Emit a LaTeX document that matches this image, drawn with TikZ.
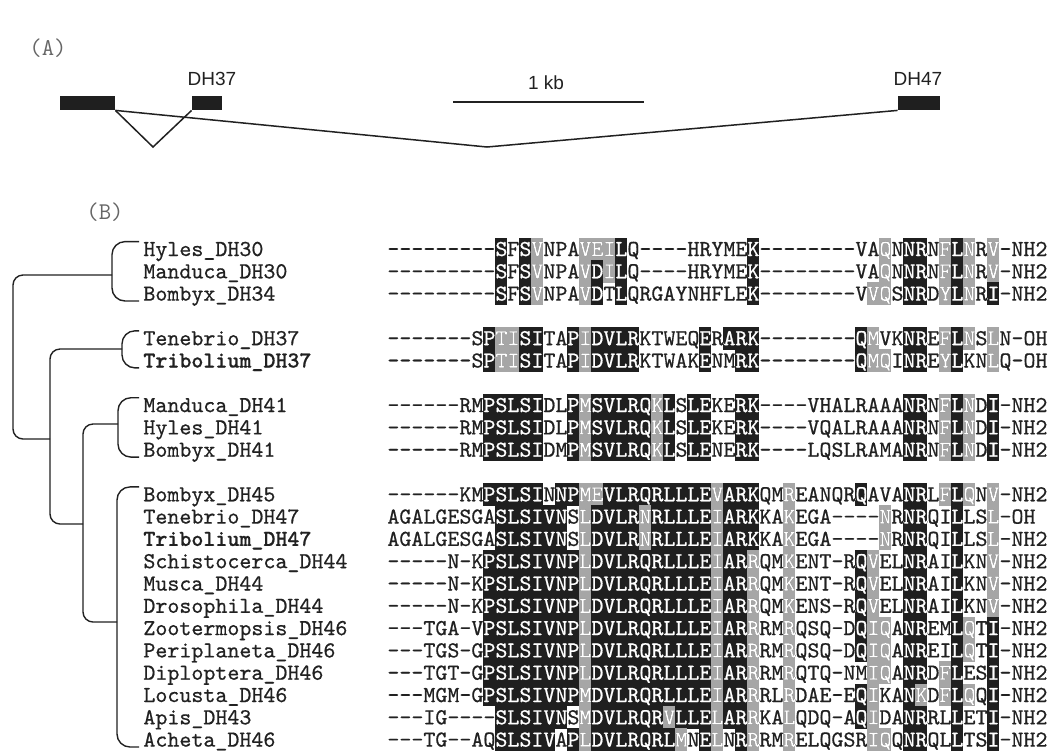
\documentclass[tikz,border=0pt]{standalone}
\usepackage{fontspec}
\setmainfont{Liberation Sans}
\setsansfont{Liberation Sans}
\newfontfamily\seqfont{lmmono10-regular.otf}[BoldFont=lmmonolt10-bold.otf, FakeBold=0.6]
\definecolor{boxdark}{gray}{0.12}
\definecolor{boxlight}{gray}{0.65}
\definecolor{ink}{gray}{0.13}

% one aligned sequence: y, node name, residues, dark columns, light columns
\newcommand{\alnrow}[5]{%
  \foreach \col in {#4} {\fill[boxdark] ({387+12*(\col-1)-0.2},{#1-11.4}) rectangle ++(12.4,22.8);}
  \foreach \col in {#5} {\fill[boxlight] ({387+12*(\col-1)-0.2},{#1-11.4}) rectangle ++(12.4,22.8);}
  \node[seq] (#2) at (387,#1) {#3};
  \begin{scope}
    \clip \foreach \col in {#4,#5} {({387+12*(\col-1)},{#1-11.4}) rectangle ++(12,22.8)};
    \node[seq, text=white] (#2w) at (387,#1) {#3};
  \end{scope}
}

\begin{document}
\begin{tikzpicture}[x=0.5pt, y=-0.5pt,
  every node/.style={text=ink},
  seq/.style={anchor=west, inner sep=0pt, text height=7pt, text depth=0pt, font=\seqfont\fontsize{11.43}{11.43}\selectfont},
  taxon/.style={seq, inner xsep=2pt},
  tree/.style={draw=ink, line width=0.7pt, rounded corners=5pt},
  exon/.style={fill=boxdark, inner sep=0pt, minimum height=7pt},
  intron/.style={draw=ink, line width=0.75pt},
  panel/.style={font=\ttfamily\fontsize{12}{12}\selectfont, text=black!60},
  gene/.style={font=\sffamily\fontsize{9.5}{9.5}\selectfont}]
\fill[white] (0,0) rectangle (1052,751);
\useasboundingbox (0,0) rectangle (1052,751);

% (A) gene structure
\node[panel] (pa) at (48,48) {(A)};
\node[exon, minimum width=27.5pt] (x1) at (87.5,103) {};
\node[exon, minimum width=15pt] (x2) at (207,103) {};
\node[exon, minimum width=21pt] (x3) at (919,103) {};
\node[gene] (t37) at (212,79) {DH37};
\node[gene] (t47) at (918,79) {DH47};
\coordinate (k1) at (153,147);
\coordinate (k2) at (487,147);
\draw[intron] (x1.south east) -- (k1) -- (x2.south west);
\draw[intron] (x1.south east) -- (k2) -- (x3.south west);
\coordinate (b1) at (453,102);
\coordinate (b2) at (644,102);
\draw[ink, line width=1pt] (b1) -- (b2);
\node[gene] (kb) at (546,83) {1 kb};

% (B) alignment
\node[panel] (pb) at (105,212) {(B)};

\node[taxon] (l1) at (139,249) {Hyles\_DH30};
\node[taxon] (l2) at (139,271.3) {Manduca\_DH30};
\node[taxon] (l3) at (139,293.6) {Bombyx\_DH34};
\node[taxon] (l4) at (139,338.2) {Tenebrio\_DH37};
\node[taxon, font=\seqfont\bfseries\fontsize{11.43}{11.43}\selectfont] (l5) at (139,360.5) {Tribolium\_DH37};
\node[taxon] (l6) at (139,405.1) {Manduca\_DH41};
\node[taxon] (l7) at (139,427.4) {Hyles\_DH41};
\node[taxon] (l8) at (139,449.7) {Bombyx\_DH41};
\node[taxon] (l9) at (139,494.3) {Bombyx\_DH45};
\node[taxon] (l10) at (139,516.6) {Tenebrio\_DH47};
\node[taxon, font=\seqfont\bfseries\fontsize{11.43}{11.43}\selectfont] (l11) at (139,538.9) {Tribolium\_DH47};
\node[taxon] (l12) at (139,561.2) {Schistocerca\_DH44};
\node[taxon] (l13) at (139,583.5) {Musca\_DH44};
\node[taxon] (l14) at (139,605.8) {Drosophila\_DH44};
\node[taxon] (l15) at (139,628.1) {Zootermopsis\_DH46};
\node[taxon] (l16) at (139,650.4) {Periplaneta\_DH46};
\node[taxon] (l17) at (139,672.7) {Diploptera\_DH46};
\node[taxon] (l18) at (139,695) {Locusta\_DH46};
\node[taxon] (l19) at (139,717.3) {Apis\_DH43};
\node[taxon] (l20) at (139,739.6) {Acheta\_DH46};

% tree
\coordinate (g1) at (112,275);
\coordinate (g2) at (122,349);
\coordinate (g3) at (118,424);
\coordinate (g4) at (117,622);
\coordinate (r0) at (13,357);
\coordinate (n2) at (50,439);
\coordinate (n3) at (83,524);
\draw[tree, rounded corners=6.5pt] (l1.north west) -| (g1 |- l3.south west) -- (l3.south west);
\draw[tree, rounded corners=6.5pt] (l4.north west) -| (g2 |- l5.south west) -- (l5.south west);
\draw[tree, rounded corners=6.5pt] (l6.north west) -| (g3 |- l8.south west) -- (l8.south west);
\draw[tree, rounded corners=6.5pt] (l9.north west) -| (g4 |- l20.south west) -- (l20.south west);
\draw[tree] (g1) -| (r0) |- (n2);
\draw[tree] (g2) -| (n2) |- (n3);
\draw[tree] (g3) -| (n3) |- (g4);

\alnrow{249}{s1}{---------SFSVNPAVEILQ----HRYMEK--------VAQNNRNFLNRV-NH2}{10,12,20,31,44,45,48}{13,17,18,19,42,47,49,51}
\alnrow{271.3}{s2}{---------SFSVNPAVDILQ----HRYMEK--------VAQNNRNFLNRV-NH2}{10,12,18,20,31,44,45,48}{13,17,19,42,47,49,51}
\alnrow{293.6}{s3}{---------SFSVNPAVDTLQRGAYNHFLEK--------VVQSNRDYLNRI-NH2}{10,12,18,20,31,44,45,48,51}{13,17,41,42,47,49}
\alnrow{338.2}{s4}{-------SPTISITAPIDVLRKTWEQERARK--------QMVKNREFLNSLN-OH}{9,12,13,16,18,19,20,21,27,29,30,31,40,44,45,48}{10,11,17,41,47,49,51}
\alnrow{360.5}{s5}{-------SPTISITAPIDVLRKTWAKENMRK--------QMQINREYLKNLQ-OH}{9,12,13,16,18,19,20,21,27,30,31,40,44,45,48}{10,11,17,41,42,47,51}
\alnrow{405.1}{s6}{------RMPSLSIDLPMSVLRQKLSLEKERK----VHALRAAANRNFLNDI-NH2}{9,10,11,12,13,16,18,19,20,21,22,24,26,27,30,31,44,45,48,51}{17,23,47,49}
\alnrow{427.4}{s7}{------RMPSLSIDLPMSVLRQKLSLEKERK----VQALRAAANRNFLNDI-NH2}{9,10,11,12,13,16,18,19,20,21,22,24,26,27,30,31,44,45,48,51}{17,23,47,49}
\alnrow{449.7}{s8}{------RMPSLSIDMPMSVLRQKLSLENERK----LQSLRAMANRNFLNDI-NH2}{9,10,11,12,13,16,18,19,20,21,22,24,26,27,30,31,44,45,48,51}{17,23,47,49}
\alnrow{494.3}{s9}{------KMPSLSINNPMEVLRQRLLLEVARKQMREANQRQAVANRLFLQNV-NH2}{9,10,11,12,13,15,16,19,20,21,22,23,24,25,26,27,29,30,31,40,44,45,48}{17,18,28,34,47,49,51}
\alnrow{516.6}{s10}{AGALGESGASLSIVNSLDVLRNRLLLEIARKKAKEGA----NRNRQILLSL-OH}{10,11,12,13,14,15,18,19,20,21,23,24,25,26,27,29,30,31,44,45,48}{17,22,28,34,42,51}
\alnrow{538.9}{s11}{AGALGESGASLSIVNSLDVLRNRLLLEIARKKAKEGA----NRNRQILLSL-NH2}{10,11,12,13,14,15,18,19,20,21,23,24,25,26,27,29,30,31,44,45,48}{17,22,28,34,42,51}
\alnrow{561.2}{s12}{-----N-KPSLSIVNPLDVLRQRLLLEIARRQMKENT-RQVELNRAILKNV-NH2}{9,10,11,12,13,14,15,16,18,19,20,21,22,23,24,25,26,27,29,30,40,44,45,48}{17,28,31,34,41,51}
\alnrow{583.5}{s13}{-----N-KPSLSIVNPLDVLRQRLLLEIARRQMKENT-RQVELNRAILKNV-NH2}{9,10,11,12,13,14,15,16,18,19,20,21,22,23,24,25,26,27,29,30,40,44,45,48}{17,28,31,34,41,51}
\alnrow{605.8}{s14}{-----N-KPSLSIVNPLDVLRQRLLLEIARRQMKENS-RQVELNRAILKNV-NH2}{9,10,11,12,13,14,15,16,18,19,20,21,22,23,24,25,26,27,29,30,40,44,45,48}{17,28,31,34,41,51}
\alnrow{628.1}{s15}{---TGA-VPSLSIVNPLDVLRQRLLLEIARRRMRQSQ-DQIQANREMLQTI-NH2}{9,10,11,12,13,14,15,16,18,19,20,21,22,23,24,25,26,27,29,30,40,44,45,48,51}{17,28,31,34,41,42,49}
\alnrow{650.4}{s16}{---TGS-GPSLSIVNPLDVLRQRLLLEIARRRMRQSQ-DQIQANREILQTI-NH2}{9,10,11,12,13,14,15,16,18,19,20,21,22,23,24,25,26,27,29,30,40,44,45,48,51}{17,28,31,34,41,42,49}
\alnrow{672.7}{s17}{---TGT-GPSLSIVNPLDVLRQRLLLEIARRRMRQTQ-NMIQANRDFLESI-NH2}{9,10,11,12,13,14,15,16,18,19,20,21,22,23,24,25,26,27,29,30,44,45,48,51}{17,28,31,34,41,42,47}
\alnrow{695}{s18}{---MGM-GPSLSIVNPMDVLRQRLLLEIARRRLRDAE-EQIKANKDFLQQI-NH2}{9,10,11,12,13,14,15,16,18,19,20,21,22,23,24,25,26,27,29,30,40,44,48,51}{17,28,31,34,41,45,47,49}
\alnrow{717.3}{s19}{---IG----SLSIVNSMDVLRQRVLLELARRKALQDQ-AQIDANRRLLETI-NH2}{10,11,12,13,14,15,18,19,20,21,22,23,25,26,27,29,30,40,44,45,48,51}{17,24,28,31,34,41}
\alnrow{739.6}{s20}{---TG--AQSLSIVAPLDVLRQRLMNELNRRRMRELQGSRIQQNRQLLTSI-NH2}{10,11,12,13,14,16,18,19,20,21,22,23,24,27,30,44,45,48,51}{17,25,28,31,34,41,42}
\end{tikzpicture}
\end{document}
